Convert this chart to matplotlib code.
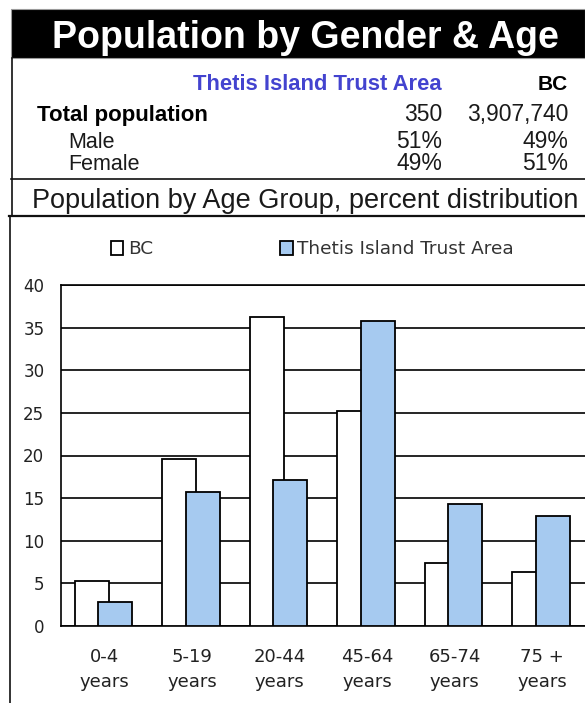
import numpy as np
import matplotlib
matplotlib.use("Agg")
import matplotlib.pyplot as plt
from matplotlib.patches import Rectangle
from matplotlib.lines import Line2D

W, H = 585, 703

# data
age_groups = ["0-4\nyears", "5-19\nyears", "20-44\nyears", "45-64\nyears", "65-74\nyears", "75 +\nyears"]
bc_pct = [5.3, 19.6, 36.2, 25.2, 7.4, 6.3]
thetis_pct = [2.8, 15.7, 17.1, 35.8, 14.3, 12.9]

area_name = "Thetis Island Trust Area"
total_pop = ["350", "3,907,740"]
male_pct = ["51%", "49%"]
female_pct = ["49%", "51%"]

BLUE_BAR = "#A6CAF0"
BLUE_TXT = "#4343CF"
HEAD_FONT = ["Liberation Sans", "DejaVu Sans"]


def fx(x):
    return x / W


def fy(y):
    return 1 - y / H


fig = plt.figure(figsize=(W / 100, H / 100), dpi=100)
fig.patch.set_facecolor("white")

# header bar
fig.patches.append(Rectangle((fx(11), fy(58)), fx(585) - fx(11), fy(9) - fy(58),
                             transform=fig.transFigure, facecolor="black",
                             edgecolor="#9a9a9a", lw=0.8))
fig.text(fx(305), fy(48), "Population by Gender & Age", color="white",
         fontsize=27, fontweight="bold", family=HEAD_FONT, ha="center", va="baseline")

# frame lines
def hline(y, x0, x1, lw):
    fig.lines.append(Line2D([fx(x0), fx(x1)], [fy(y), fy(y)], transform=fig.transFigure,
                            color="#111111", lw=lw))


def vline(x, y0, y1, lw):
    fig.lines.append(Line2D([fx(x), fx(x)], [fy(y0), fy(y1)], transform=fig.transFigure,
                            color="#111111", lw=lw))


vline(11.5, 58, 216, 1.2)
vline(9.5, 216, 703, 1.2)
hline(178.5, 11, 585, 1.2)
hline(216, 9, 585, 1.6)

# summary table
col1, col2 = 442, 568
fig.text(fx(col1), fy(90), area_name, color=BLUE_TXT, fontsize=15.8, fontweight="bold",
         family=HEAD_FONT, ha="right", va="baseline")
fig.text(fx(col2), fy(90), "BC", fontsize=15, fontweight="bold",
         family=HEAD_FONT, ha="right", va="baseline")
fig.text(fx(37), fy(121), "Total population", fontsize=16, fontweight="bold",
         family=HEAD_FONT, ha="left", va="baseline")
rows = [(121, total_pop), (148, male_pct), (170, female_pct)]
for y, vals in rows:
    fig.text(fx(col1), fy(y), vals[0], fontsize=16.5, family=HEAD_FONT, ha="right",
             va="baseline", color="#1a1a1a")
    fig.text(fx(col2), fy(y), vals[1], fontsize=16.5, family=HEAD_FONT, ha="right",
             va="baseline", color="#1a1a1a")
fig.text(fx(68), fy(148), "Male", fontsize=15.5, family=HEAD_FONT, ha="left", va="baseline",
         color="#1a1a1a")
fig.text(fx(68), fy(170), "Female", fontsize=15.5, family=HEAD_FONT, ha="left", va="baseline",
         color="#1a1a1a")

fig.text(fx(305), fy(207.5), "Population by Age Group, percent distribution",
         fontsize=19.5, family=HEAD_FONT, ha="center", va="baseline", color="#1a1a1a")

# bar chart
ax = fig.add_axes([fx(61), fy(626), fx(586) - fx(61), fy(285) - fy(626)])
x = np.arange(len(age_groups))
bw = 0.39
b1 = ax.bar(x - 0.15, bc_pct, bw, color="white", edgecolor="black", lw=1.3, zorder=3, label="BC")
b2 = ax.bar(x + 0.12, thetis_pct, bw, color=BLUE_BAR, edgecolor="black", lw=1.3, zorder=4,
            label=area_name)

ax.set_xlim(-0.5, len(age_groups) - 0.5)
ax.set_ylim(0, 40)
ax.set_yticks(np.arange(0, 41, 5))
ax.set_xticks(x)
ax.set_xticklabels(age_groups, fontsize=13, linespacing=1.5, color="#222222")
ax.tick_params(axis="y", length=0, pad=12, labelsize=12, labelcolor="#222222")
ax.tick_params(axis="x", length=0, pad=16)
ax.yaxis.grid(True, color="black", lw=1.2, zorder=0)
ax.set_axisbelow(True)
for s in ["left", "top", "bottom", "right"]:
    ax.spines[s].set_color("black")
    ax.spines[s].set_linewidth(1.2)

leg = ax.legend(handles=[b1, b2], ncol=2, frameon=False, loc="center left",
                bbox_to_anchor=(fx(111), fy(249)), bbox_transform=fig.transFigure,
                fontsize=13.3, handlelength=0.66, handleheight=0.78, handletextpad=0.25,
                columnspacing=6.9, borderpad=0, borderaxespad=0)
for t in leg.get_texts():
    t.set_color("#333333")

fig.savefig("out.png", dpi=100)
